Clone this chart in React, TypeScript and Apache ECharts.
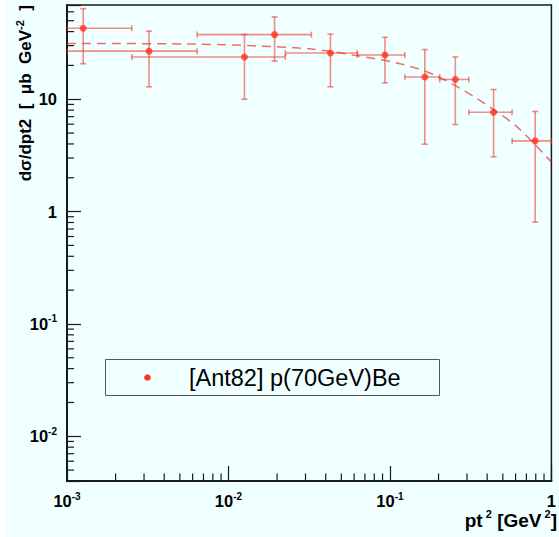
import React, { useEffect, useRef } from 'react';
import * as echarts from 'echarts';

// Data points
const xCenter = [0.00126, 0.00322, 0.01256, 0.0193, 0.0428, 0.0931, 0.1644, 0.254, 0.4385, 0.793];
const yValue = [42.8, 26.8, 23.8, 37.6, 25.8, 24.8, 15.8, 15.0, 7.66, 4.26];
const xLow = [0.001, 0.001, 0.00252, 0.0064, 0.0225, 0.0628, 0.1237, 0.2033, 0.308, 0.571];
const xHigh = [0.00252, 0.0064, 0.0225, 0.0326, 0.0628, 0.1237, 0.2033, 0.308, 0.571, 1.0];
const yLow = [20.7, 12.9, 10.0, 21.9, 12.9, 14.0, 3.98, 5.96, 3.07, 0.807];
const yHigh = [64, 40.4, 37.8, 54, 38, 35.6, 27.7, 23.8, 12.2, 7.78];

// Dashed fit curve
const fitX = [0.001, 0.0059, 0.0151, 0.0336, 0.0647, 0.119, 0.19, 0.333, 0.613, 1.0];
const fitY = [31.4, 31.0, 29.8, 27.9, 24.2, 20.5, 16.4, 10.5, 5.67, 2.75];

// Axes
const xMin = 0.001;
const xMax = 1;
const yMin = 0.004;
const yMax = 69;
const xDecades = [0.001, 0.01, 0.1];
const yDecades = [0.001, 0.01, 0.1, 1, 10];
const minorSteps = [2, 3, 4, 5, 6, 7, 8, 9];

const legendLabel = '[Ant82] p(70GeV)Be';

const FONT = '"Liberation Sans", Arial, Helvetica, sans-serif';
const RED = '#ff3322';
const BAR = 'rgba(240,50,35,0.55)';
const AXIS = '#1a1a1a';

const xMinorTicks: number[] = [];
xDecades.forEach((d) => minorSteps.forEach((m) => { const v = d * m; if (v > xMin && v < xMax) xMinorTicks.push(v); }));
const yMinorTicks: number[] = [];
yDecades.forEach((d) => minorSteps.forEach((m) => { const v = d * m; if (v > yMin && v < yMax) yMinorTicks.push(v); }));

function powLabel(v: number): string {
  const l = Math.log10(v);
  const e = Math.round(l);
  if (Math.abs(l - e) > 1e-6) return '';
  if (e === 0) return '{b|1}';
  if (e === 1) return '{b|10}';
  return '{b|10}{s|' + e + '}';
}

const labelRich = {
  b: { fontSize: 16.5, fontWeight: 'bold', fontFamily: FONT, color: '#000', lineHeight: 20 },
  s: { fontSize: 10, fontWeight: 'bold', fontFamily: FONT, color: '#000', lineHeight: 6, verticalAlign: 'top' },
};

export default function App() {
  const ref = useRef<HTMLDivElement>(null);
  useEffect(() => {
    document.body.style.margin = '0';
    const chart = echarts.init(ref.current!, null, { renderer: 'svg' });
    const barData = xCenter.map((x, i) => [x, yValue[i], xLow[i], xHigh[i], yLow[i], yHigh[i]]);
    const option: any = {
      animation: false,
      backgroundColor: '#f0ffff',
      grid: { left: 67, top: 5, width: 491, height: 476, show: true, borderColor: AXIS, borderWidth: 1.5, backgroundColor: 'transparent' },
      xAxis: {
        type: 'log', logBase: 10, min: xMin, max: xMax,
        axisLine: { show: true, lineStyle: { color: AXIS, width: 2 } },
        axisTick: { show: true, inside: true, length: 15, lineStyle: { color: AXIS, width: 1.2 } },
        splitLine: { show: false },
        axisLabel: { margin: 10, formatter: powLabel, rich: labelRich, showMinLabel: true, showMaxLabel: true, hideOverlap: false },
      },
      yAxis: {
        type: 'log', logBase: 10, min: yMin, max: yMax,
        axisLine: { show: true, lineStyle: { color: AXIS, width: 2 } },
        axisTick: { show: true, inside: true, length: 14, lineStyle: { color: AXIS, width: 1.2 } },
        splitLine: { show: false },
        axisLabel: { margin: 10, formatter: powLabel, rich: labelRich, hideOverlap: false },
      },
      series: [
        {
          type: 'custom', name: 'minorX', silent: true, clip: false, z: 5,
          data: xMinorTicks.map((v) => [v, yMin]),
          renderItem: (params: any, api: any) => {
            const p = api.coord([api.value(0), yMin]);
            return { type: 'line', shape: { x1: p[0], y1: p[1], x2: p[0], y2: p[1] - 7.5 }, style: { stroke: AXIS, lineWidth: 1.2 } };
          },
        },
        {
          type: 'custom', name: 'minorY', silent: true, clip: false, z: 5,
          data: yMinorTicks.map((v) => [xMin, v]),
          renderItem: (params: any, api: any) => {
            const p = api.coord([xMin, api.value(1)]);
            return { type: 'line', shape: { x1: p[0], y1: p[1], x2: p[0] + 7, y2: p[1] }, style: { stroke: AXIS, lineWidth: 1.2 } };
          },
        },
        {
          type: 'line', name: 'fit', data: fitX.map((x, i) => [x, fitY[i]]),
          showSymbol: false, smooth: 0.3, clip: true, z: 2,
          lineStyle: { color: 'rgba(240,50,35,0.7)', width: 1.5, type: [9, 6] },
        },
        {
          type: 'custom', name: 'errors', clip: true, z: 3,
          data: barData,
          encode: { x: 0, y: 1 },
          renderItem: (params: any, api: any) => {
            const xc = api.value(0), y = api.value(1), xl = api.value(2), xh = api.value(3), yl = api.value(4), yh = api.value(5);
            const pL = api.coord([xl, y]);
            const pH = api.coord([xh, y]);
            const pT = api.coord([xc, yh]);
            const pB = api.coord([xc, yl]);
            const c = 3;
            const st = { stroke: BAR, lineWidth: 1.6 };
            const ln = (x1: number, y1: number, x2: number, y2: number) => ({ type: 'line', shape: { x1, y1, x2, y2 }, style: st });
            return {
              type: 'group',
              children: [
                ln(pL[0], pL[1], pH[0], pH[1]),
                ln(pT[0], pT[1], pB[0], pB[1]),
                ln(pL[0], pL[1] - c, pL[0], pL[1] + c),
                ln(pH[0], pH[1] - c, pH[0], pH[1] + c),
                ln(pT[0] - c, pT[1], pT[0] + c, pT[1]),
                ln(pB[0] - c, pB[1], pB[0] + c, pB[1]),
              ],
            };
          },
        },
        {
          type: 'scatter', name: legendLabel, data: xCenter.map((x, i) => [x, yValue[i]]),
          symbol: 'circle', symbolSize: 7, itemStyle: { color: RED }, z: 4,
        },
      ],
      graphic: [
        { type: 'rect', left: 0, top: 0, shape: { width: 6, height: 537 }, style: { fill: '#ffffff' }, silent: true },
        {
          type: 'text', x: 25, y: 5, rotation: Math.PI / 2, silent: true,
          style: {
            text: '{m|dσ/dpt2  [  μb  GeV}{s|-2}{m|  ]}',
            align: 'right', verticalAlign: 'middle',
            rich: {
              m: { fontSize: 17, fontWeight: 'bold', fontFamily: FONT, fill: '#000', lineHeight: 21 },
              s: { fontSize: 11, fontWeight: 'bold', fontFamily: FONT, fill: '#000', lineHeight: 6, verticalAlign: 'top' },
            },
          },
        },
        {
          type: 'text', x: 557, y: 520, silent: true,
          style: {
            text: '{m|pt}{s| 2}{m| [GeV}{s| 2}{m|]}',
            align: 'right', verticalAlign: 'middle',
            rich: {
              m: { fontSize: 19, fontWeight: 'bold', fontFamily: FONT, fill: '#000', lineHeight: 23 },
              s: { fontSize: 11, fontWeight: 'bold', fontFamily: FONT, fill: '#000', lineHeight: 7, verticalAlign: 'top' },
            },
          },
        },
        {
          type: 'group', silent: true,
          children: [
            { type: 'rect', shape: { x: 105.5, y: 359.5, width: 334, height: 36 }, style: { fill: '#f0ffff', stroke: '#555', lineWidth: 1 } },
            { type: 'circle', shape: { cx: 147.5, cy: 377.5, r: 3.3 }, style: { fill: RED } },
            { type: 'text', x: 189, y: 378, style: { text: legendLabel, fontSize: 23.5, fontFamily: FONT, fill: '#000', align: 'left', verticalAlign: 'middle' } },
          ],
        },
      ],
    };
    chart.setOption(option);
    return () => chart.dispose();
  }, []);
  return <div ref={ref} style={{ width: 559, height: 537 }} />;
}
